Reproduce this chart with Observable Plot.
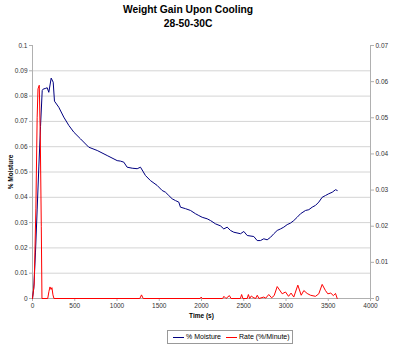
<!DOCTYPE html>
<html><head><meta charset="utf-8">
<script src="https://cdn.jsdelivr.net/npm/d3@7"></script>
<script src="https://cdn.jsdelivr.net/npm/@observablehq/plot@0.6"></script>
<style>
body{margin:0;background:#fff;font-family:"Liberation Sans",Arial,sans-serif;width:400px;height:348px;overflow:hidden;}
#title{width:376px;text-align:center;font-weight:bold;font-size:10.3px;line-height:14px;padding-top:3px;height:31px;color:#000;}
#chart{height:288px;}
#legend{position:absolute;left:167px;top:330px;width:124px;height:12px;border:1px solid #999;font-size:7px;line-height:12px;color:#000;white-space:nowrap;}
#legend .sw{display:inline-block;width:11px;height:0;border-top:1px solid;vertical-align:middle;margin:0 2px 0 5px;}
</style></head><body>
<div id="title">Weight Gain Upon Cooling<br>28-50-30C</div>
<div id="chart"></div>
<div id="legend"></div>
<script>
const title = "Weight Gain Upon Cooling";
const subtitle = "28-50-30C";
const seriesNames = ["% Moisture", "Rate (%/Minute)"];
const seriesColors = ["#000080", "#ff0000"];
const xTicks = [0, 500, 1000, 1500, 2000, 2500, 3000, 3500, 4000];
const leftTicks = [0, 0.01, 0.02, 0.03, 0.04, 0.05, 0.06, 0.07, 0.08, 0.09, 0.1];
const rightTicks = [0, 0.01, 0.02, 0.03, 0.04, 0.05, 0.06, 0.07];

// % Moisture (left axis)
const moistureTime = [0, 15, 35, 55, 75, 95, 115, 127, 150, 174, 193, 221, 245, 260, 311, 370, 430, 490, 568, 666, 766, 884, 1002, 1041, 1080, 1120, 1180, 1239, 1278, 1337, 1396, 1475, 1534, 1574, 1613, 1653, 1692, 1731, 1751, 1811, 1870, 1929, 1968, 2008, 2067, 2107, 2166, 2225, 2264, 2304, 2343, 2382, 2462, 2501, 2541, 2619, 2659, 2698, 2737, 2777, 2817, 2856, 2896, 2935, 2974, 3014, 3053, 3092, 3132, 3172, 3231, 3270, 3310, 3349, 3388, 3428, 3467, 3506, 3547, 3586, 3606];
const moistureValue = [0, 0.004, 0.018, 0.035, 0.052, 0.068, 0.0822, 0.0828, 0.083, 0.0833, 0.0815, 0.0871, 0.0855, 0.078, 0.0756, 0.0717, 0.0684, 0.0657, 0.0631, 0.0598, 0.0585, 0.0565, 0.0545, 0.0543, 0.0539, 0.0519, 0.0515, 0.0513, 0.0519, 0.0486, 0.0466, 0.0447, 0.0427, 0.042, 0.0407, 0.0394, 0.0387, 0.0381, 0.0361, 0.0355, 0.0348, 0.0335, 0.0328, 0.0321, 0.0315, 0.0308, 0.0295, 0.0287, 0.0275, 0.0282, 0.0269, 0.0262, 0.0256, 0.0265, 0.0249, 0.0245, 0.0229, 0.0229, 0.0236, 0.0232, 0.0242, 0.0256, 0.0269, 0.0275, 0.0282, 0.0292, 0.0298, 0.0308, 0.0321, 0.0335, 0.0348, 0.0351, 0.0361, 0.0368, 0.0381, 0.04, 0.0407, 0.0414, 0.042, 0.043, 0.0427];

// Rate (%/Minute) (right axis)
const rateTime = [0, 20, 40, 55, 65, 80, 92, 104, 112, 180, 195, 207, 220, 230, 242, 254, 1270, 1290, 1310, 1985, 1996, 2008, 2250, 2265, 2290, 2330, 2350, 2460, 2475, 2490, 2540, 2555, 2570, 2590, 2610, 2640, 2660, 2680, 2737, 2760, 2796, 2830, 2860, 2896, 2955, 2994, 3030, 3060, 3092, 3140, 3180, 3211, 3250, 3290, 3349, 3388, 3428, 3467, 3495, 3530, 3560, 3586, 3606];
const rateValue = [0, 0.004, 0.025, 0.05, 0.058, 0.059, 0.045, 0.02, 0, 0, 0.002, 0.0032, 0.0025, 0.003, 0.001, 0, 0, 0.001, 0, 0, 0.0004, 0, 0, 0.0006, 0, 0.0008, 0, 0, 0.0011, 0, 0, 0.0011, 0, 0.0007, 0.0003, 0, 0.0009, 0, 0.0004, 0.0001, 0.0011, 0.0002, 0.0008, 0.0033, 0.0013, 0.0018, 0.0006, 0.0015, 0.0004, 0.0037, 0.0009, 0.0022, 0.0014, 0.0009, 0.0006, 0.0013, 0.0039, 0.0022, 0.0013, 0.0015, 0.0008, 0.0014, 0];

const leftMax = 0.1, rightMax = 0.07, ratio = leftMax / rightMax;
const moisture = moistureTime.map((t, i) => ({t, v: moistureValue[i]}));
const rate = rateTime.map((t, i) => ({t, v: rateValue[i] * ratio}));
const fmt = d => String(+d.toFixed(3));

const chart = Plot.plot({
  width: 400, height: 288,
  marginLeft: 32, marginRight: 30, marginTop: 11, marginBottom: 24,
  x: {domain: [0, 4000]},
  y: {domain: [0, leftMax]},
  style: {fontFamily: "'Liberation Sans', Arial, sans-serif", fontSize: "6.5px", color: "#333", background: "white", overflow: "visible"},
  marks: [
    Plot.ruleY(leftTicks.filter(d => d > 0 && d < leftMax), {stroke: "#d4d4d4"}),
    Plot.ruleY([0], {stroke: "#b0b0b0"}),
    Plot.ruleX([0, 4000], {stroke: "#b0b0b0"}),
    Plot.axisY(leftTicks, {anchor: "left", tickSize: 3, tickPadding: 2, tickFormat: fmt, label: null, stroke: "#b0b0b0", fill: "#333"}),
    Plot.axisY(rightTicks.map(d => d * ratio), {anchor: "right", tickSize: 3, tickPadding: 2, tickFormat: d => fmt(d / ratio), label: null, stroke: "#b0b0b0", fill: "#333"}),
    Plot.axisX(xTicks, {tickSize: 3, tickPadding: 2, tickFormat: d => String(d), label: null, stroke: "#b0b0b0", fill: "#333"}),
    Plot.line(moisture, {x: "t", y: "v", stroke: seriesColors[0], strokeWidth: 1}),
    Plot.line(rate, {x: "t", y: "v", stroke: seriesColors[1], strokeWidth: 1}),
    Plot.text(["% Moisture"], {frameAnchor: "left", rotate: -90, dx: -22, textAnchor: "middle", fontWeight: "bold", fill: "#000"}),
    Plot.text(["Time (s)"], {frameAnchor: "bottom", dy: 19, textAnchor: "middle", fontWeight: "bold", fill: "#000"})
  ]
});
document.getElementById("chart").appendChild(chart);
document.getElementById("title").innerHTML = title + "<br>" + subtitle;
const lg = document.getElementById("legend");
seriesNames.forEach((n, i) => {
  const sw = document.createElement("span");
  sw.className = "sw"; sw.style.borderTopColor = seriesColors[i];
  lg.appendChild(sw);
  lg.appendChild(document.createTextNode(n));
});
</script>
</body></html>
